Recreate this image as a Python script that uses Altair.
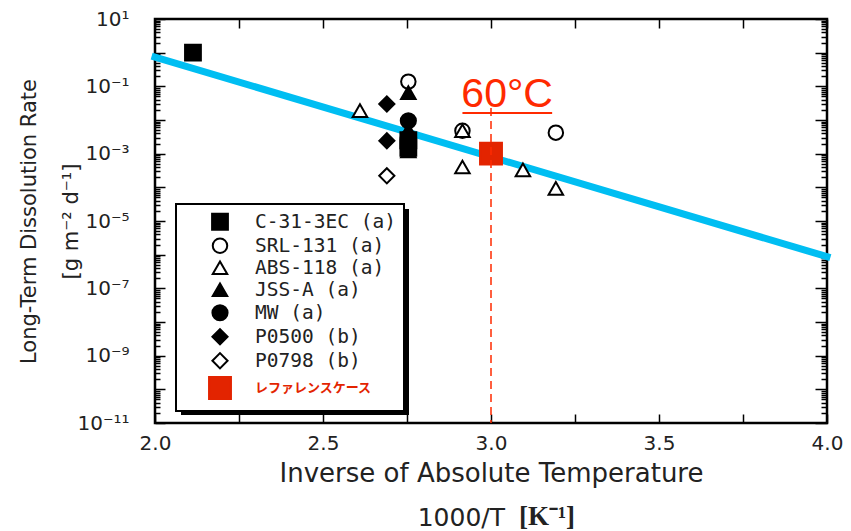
import altair as alt
import pandas as pd

# Glass series shown in the legend, in drawing order
series_names = ["C-31-3EC (a)", "SRL-131 (a)", "ABS-118 (a)", "JSS-A (a)",
                "MW (a)", "P0500 (b)", "P0798 (b)", "レファレンスケース"]
series_shapes = ["square", "circle", "triangle-up", "triangle-up",
                 "circle", "diamond", "diamond", "square"]
series_fills = ["black", "white", "white", "black", "black", "black", "white", "#E32400"]
series_strokes = ["black", "black", "black", "black", "black", "black", "black", "#E32400"]
series_sizes = [250, 210, 210, 210, 230, 230, 230, 480]

# 1000/T [1/K] and long-term dissolution rate [g m^-2 d^-1] for each glass
c31_x = [2.113, 2.754, 2.754]
c31_y = [1.0, 0.0025, 0.0015]
srl_x = [2.754, 2.915, 3.193]
srl_y = [0.138, 0.0048, 0.0042]
abs_x = [2.610, 2.754, 2.915, 2.915, 3.095, 3.193]
abs_y = [0.019, 0.005, 0.0048, 4.0e-4, 3.3e-4, 9.3e-5]
jss_x = [2.754, 2.754, 2.754]
jss_y = [0.065, 0.0045, 0.0012]
mw_x = [2.754, 2.754]
mw_y = [0.0095, 0.003]
p0500_x = [2.69, 2.69]
p0500_y = [0.030, 0.0024]
p0798_x = [2.69]
p0798_y = [2.2e-4]
ref_x = [3.0]
ref_y = [1.0e-3]

# Arrhenius-type fit across the plotted range
fit_x = [2.0, 4.0]
fit_y = [0.74, 8.7e-7]

# 60 degC annotation: label position, underline span and guide line
ann_text = "60°C"
ann_x = [3.048]
ann_y = [10 ** -1.615]
underline_x = [2.915]
underline_x2 = [3.182]
underline_y = [10 ** -1.79]
guide_x = [3.0]
guide_y_top = [10 ** -1.64]
guide_y_bottom = [1e-11]

# Axis ticks and labels
x_tick_values = [2.0, 2.25, 2.5, 2.75, 3.0, 3.25, 3.5, 3.75, 4.0]
y_tick_values = [float(f"{m}e{k}") for k in range(-11, 1) for m in range(1, 10)] + [10.0]
y_label_exps = [1, -1, -3, -5, -7, -9, -11]
y_label_texts = ["10¹", "10⁻¹", "10⁻³", "10⁻⁵", "10⁻⁷", "10⁻⁹", "10⁻¹¹"]

x_title = "Inverse of Absolute Temperature"
x_unit_var = "1000/T"
x_unit = "[K⁻¹]"
y_title = ["Long-Term Dissolution Rate", "[g m⁻² d⁻¹]"]

rows = []
for name, xs, ys in [
    (series_names[0], c31_x, c31_y),
    (series_names[1], srl_x, srl_y),
    (series_names[2], abs_x, abs_y),
    (series_names[3], jss_x, jss_y),
    (series_names[4], mw_x, mw_y),
    (series_names[5], p0500_x, p0500_y),
    (series_names[6], p0798_x, p0798_y),
    (series_names[7], ref_x, ref_y),
]:
    for xv, yv in zip(xs, ys):
        rows.append({"series": name, "x": xv, "y": yv})
points_df = pd.DataFrame(rows)
fit_df = pd.DataFrame({"x": fit_x, "y": fit_y})

TEXT = "#222222"
RED = "#FF2A00"
FONT = "DejaVu Sans"
LEGEND_FONT = "DejaVu Sans Mono"

x_scale = alt.Scale(domain=[2.0, 4.0], nice=False, zero=False)
y_scale = alt.Scale(type="log", domain=[1e-11, 10], nice=False)

LOG10 = "(log(datum.value)/LN10)"
IS_MAJOR = f"(abs({LOG10} - round({LOG10})) < 0.001)"
y_label_expr = "".join(
    f"{IS_MAJOR} && round({LOG10}) == {e} ? '{t}' : "
    for e, t in zip(y_label_exps, y_label_texts)
) + "''"
x_label_expr = ("abs(datum.value*2 - round(datum.value*2)) < 0.001 ? "
                "format(datum.value, '.1f') : ''")

axis_common = dict(domain=False, grid=False, labelFlush=False, labelOverlap=False,
                   tickColor="black", tickWidth=1.5, labelColor=TEXT,
                   labelFont=FONT, labelFontSize=20, titleColor=TEXT,
                   titleFont=FONT, titleFontWeight="normal")

x_bottom = alt.Axis(orient="bottom", values=x_tick_values, labelExpr=x_label_expr,
                    tickSize={"expr": "-9"}, labelPadding=19,
                    title=x_title, titleFontSize=26, titlePadding=7, **axis_common)
y_left = alt.Axis(orient="left", values=y_tick_values, labelExpr=y_label_expr,
                  tickSize={"expr": f"{IS_MAJOR} ? -10 : -5"}, labelPadding=36,
                  title=y_title, titleFontSize=21, titleLineHeight=42,
                  titlePadding={"expr": "-5"}, **axis_common)
x_top = alt.Axis(orient="top", values=x_tick_values, labels=False,
                 tickSize={"expr": "-9"}, title=None, **axis_common)
y_right = alt.Axis(orient="right", values=y_tick_values, labels=False,
                   tickSize={"expr": f"{IS_MAJOR} ? -12 : -6"}, title=None,
                   **axis_common)

one_row = alt.Data(values=[{}])

# Drop shadow behind the legend box
shadow = alt.Chart(one_row).mark_rect(color="black").encode(
    x=alt.value(26), x2=alt.value(254), y=alt.value(190), y2=alt.value(396)
)

# Second line of the x-axis title: variable in sans, unit in bold serif
unit_var_text = alt.Chart(one_row).mark_text(
    text=x_unit_var, font=FONT, fontSize=25, color=TEXT, align="right", baseline="alphabetic"
).encode(x=alt.value(350), y=alt.value(507))
unit_text = alt.Chart(one_row).mark_text(
    text=x_unit, font="Liberation Serif", fontWeight="bold", fontSize=27, color=TEXT,
    align="left", baseline="alphabetic"
).encode(x=alt.value(364), y=alt.value(506))

fit_line = alt.Chart(fit_df).mark_line(
    color="#00BEF2", strokeWidth=7, strokeCap="square"
).encode(
    x=alt.X("x:Q", scale=x_scale, axis=x_top),
    y=alt.Y("y:Q", scale=y_scale, axis=y_right),
)

ref_label = series_names[7]
legend = alt.Legend(
    title=None, orient="none", legendX=21, legendY=185,
    fillColor="white", strokeColor="black", padding=8,
    symbolOffset=24, labelOffset=23, rowPadding=0,
    symbolStrokeWidth=2,
    labelFontSize={"expr": f"datum.label == '{ref_label}' ? 13 : 19.5"},
    labelFont={"expr": f"datum.label == '{ref_label}' ? 'Noto Sans CJK JP' : '{LEGEND_FONT}'"},
    labelFontWeight={"expr": f"datum.label == '{ref_label}' ? 'bold' : 'normal'"},
    labelColor={"expr": f"datum.label == '{ref_label}' ? '#E32400' : '{TEXT}'"},
    labelLimit=400,
)

points = alt.Chart(points_df).mark_point(opacity=1, fillOpacity=1, strokeWidth=2).encode(
    x=alt.X("x:Q", scale=x_scale, axis=x_bottom),
    y=alt.Y("y:Q", scale=y_scale, axis=y_left),
    shape=alt.Shape("series:N", scale=alt.Scale(domain=series_names, range=series_shapes), legend=legend),
    fill=alt.Fill("series:N", scale=alt.Scale(domain=series_names, range=series_fills), legend=legend),
    stroke=alt.Stroke("series:N", scale=alt.Scale(domain=series_names, range=series_strokes), legend=legend),
    size=alt.Size("series:N", scale=alt.Scale(type="ordinal", domain=series_names, range=series_sizes), legend=legend),
    order=alt.Order("idx:Q"),
).transform_calculate(idx="indexof(" + str(series_names).replace("'", '"') + ", datum.series)")

guide = alt.Chart(pd.DataFrame({"x": guide_x, "y": guide_y_top, "y2": guide_y_bottom})).mark_rule(
    color=RED, strokeWidth=1.5, strokeDash=[8, 5]
).encode(
    x=alt.X("x:Q", scale=x_scale, axis=None),
    y=alt.Y("y:Q", scale=y_scale, axis=None),
    y2="y2:Q",
)

underline = alt.Chart(pd.DataFrame({"x": underline_x, "x2": underline_x2, "y": underline_y})).mark_rule(
    color=RED, strokeWidth=2
).encode(
    x=alt.X("x:Q", scale=x_scale, axis=None),
    x2="x2:Q",
    y=alt.Y("y:Q", scale=y_scale, axis=None),
)

label = alt.Chart(pd.DataFrame({"x": ann_x, "y": ann_y, "t": [ann_text]})).mark_text(
    color=RED, font="Liberation Sans", fontSize=41, align="center", baseline="alphabetic"
).encode(
    x=alt.X("x:Q", scale=x_scale, axis=None),
    y=alt.Y("y:Q", scale=y_scale, axis=None),
    text="t:N",
)

chart = alt.layer(shadow, unit_var_text, unit_text, fit_line, points, guide, underline, label).resolve_axis(
    x="independent", y="independent"
).properties(
    width=672, height=404,
    autosize=alt.AutoSizeParams(type="none"),
    padding={"left": 155, "top": 19, "right": 24, "bottom": 108},
    background="white",
).configure_view(
    stroke="black", strokeWidth=2.5
).configure_legend(
    strokeWidth=2
)

chart.save("out.html", embed_options={"renderer": "svg", "actions": False})
